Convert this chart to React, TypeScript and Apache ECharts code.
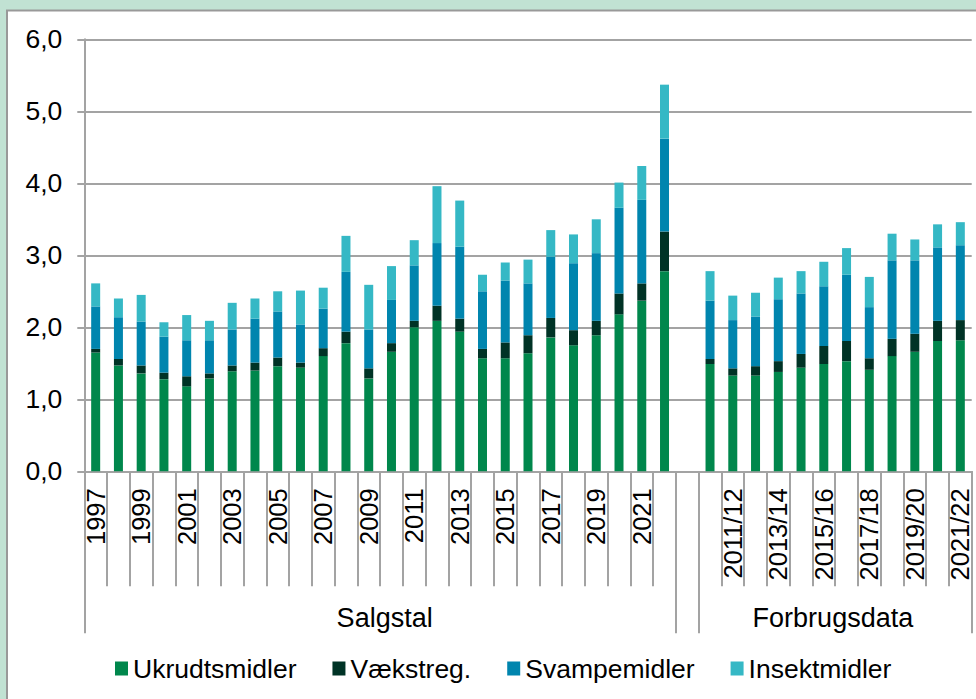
import React, { useEffect, useRef } from "react";
import * as echarts from "echarts";

const salgYears = ["1997","1998","1999","2000","2001","2002","2003","2004","2005","2006","2007","2008","2009","2010","2011","2012","2013","2014","2015","2016","2017","2018","2019","2020","2021","2022"];
const forbrugYears = ["2010/11","2011/12","2012/13","2013/14","2014/15","2015/16","2016/17","2017/18","2018/19","2019/20","2020/21","2021/22"];

const salgUkrudt = [1.65,1.47,1.36,1.28,1.18,1.29,1.39,1.40,1.46,1.44,1.60,1.78,1.29,1.66,2.00,2.09,1.94,1.57,1.57,1.64,1.86,1.75,1.89,2.18,2.37,2.78];
const salgVaekst = [0.05,0.09,0.11,0.09,0.14,0.07,0.08,0.11,0.12,0.07,0.11,0.16,0.14,0.12,0.09,0.21,0.18,0.13,0.22,0.25,0.27,0.21,0.20,0.29,0.24,0.55];
const salgSvampe = [0.59,0.58,0.61,0.50,0.50,0.46,0.50,0.61,0.64,0.53,0.55,0.83,0.54,0.60,0.77,0.87,1.00,0.80,0.86,0.72,0.85,0.93,0.94,1.19,1.16,1.29];
const salgInsekt = [0.32,0.26,0.37,0.20,0.35,0.27,0.37,0.28,0.28,0.47,0.29,0.50,0.62,0.47,0.35,0.79,0.64,0.23,0.25,0.33,0.37,0.40,0.47,0.35,0.47,0.75];

const forbrugUkrudt = [1.49,1.33,1.33,1.38,1.44,1.49,1.53,1.41,1.60,1.66,1.81,1.82];
const forbrugVaekst = [0.07,0.10,0.13,0.15,0.19,0.25,0.28,0.16,0.24,0.25,0.28,0.28];
const forbrugSvampe = [0.81,0.67,0.69,0.86,0.84,0.83,0.92,0.71,1.09,1.02,1.02,1.04];
const forbrugInsekt = [0.41,0.34,0.33,0.30,0.31,0.34,0.37,0.42,0.37,0.29,0.32,0.32];

const seriesNames = ["Ukrudtsmidler", "Vækstreg.", "Svampemidler", "Insektmidler"];
const seriesColors = ["#00874c", "#003326", "#0085ae", "#35b8c5"];
const groupLabels = ["Salgstal", "Forbrugsdata"];
const yTicks = [0, 1, 2, 3, 4, 5, 6];

const categories = [...salgYears, "", ...forbrugYears];
const join = (a: number[], b: number[]) => [...a, null, ...b];
const seriesData = [
  join(salgUkrudt, forbrugUkrudt),
  join(salgVaekst, forbrugVaekst),
  join(salgSvampe, forbrugSvampe),
  join(salgInsekt, forbrugInsekt),
];

const FONT = "'Liberation Sans', Arial, sans-serif";
const GRAY = "#a3a3a3";

export default function App() {
  const ref = useRef<HTMLDivElement>(null);
  useEffect(() => {
    if (!ref.current) return;
    const chart = echarts.init(ref.current, null, { renderer: "svg" });
    const nS = salgYears.length;
    const nAll = categories.length;
    chart.setOption({
      animation: false,
      backgroundColor: "#c1e2d3",
      graphic: [
        {
          type: "rect",
          z: -100,
          silent: true,
          shape: { x: 7, y: 10.5, width: 990, height: 700 },
          style: { fill: "#ffffff", stroke: "#999999", lineWidth: 2 },
        },
      ],
      grid: { left: 84.3, right: 4.3, top: 39.3, bottom: 227.7, containLabel: false },
      legend: {
        left: 110,
        top: 650,
        itemWidth: 13,
        itemHeight: 14,
        itemGap: 36,
        icon: "rect",
        textStyle: { fontFamily: FONT, fontSize: 26.5, color: "#000" },
        data: seriesNames,
      },
      xAxis: [
        {
          type: "category",
          data: categories,
          boundaryGap: true,
          axisLine: { show: true, lineStyle: { color: GRAY, width: 2 } },
          axisTick: { show: true, interval: 0, length: 115, lineStyle: { color: GRAY, width: 2 } },
          axisLabel: {
            interval: 1,
            rotate: 90,
            margin: 17,
            fontFamily: FONT,
            fontSize: 25.5,
            color: "#000",
          },
          splitLine: { show: false },
        },
        {
          type: "value",
          min: 0,
          max: nAll,
          position: "bottom",
          axisLine: { show: false },
          axisTick: {
            show: true,
            length: 162,
            customValues: [0, nS, nS + 1, nAll],
            lineStyle: { color: GRAY, width: 2 },
          },
          axisLabel: {
            show: true,
            customValues: [nS / 2 + 0.2, nS + 1 + forbrugYears.length / 2 - 0.1],
            formatter: (v: number) => (v < nS ? groupLabels[0] : groupLabels[1]),
            margin: 133,
            fontFamily: FONT,
            fontSize: 27,
            color: "#000",
          },
          splitLine: { show: false },
        },
      ],
      yAxis: {
        type: "value",
        min: yTicks[0],
        max: yTicks[yTicks.length - 1],
        interval: 1,
        axisLine: { show: true, lineStyle: { color: GRAY, width: 2 } },
        axisTick: { show: true, length: 7, lineStyle: { color: GRAY, width: 2 } },
        axisLabel: {
          margin: 22,
          fontFamily: FONT,
          fontSize: 26.5,
          color: "#000",
          formatter: (v: number) => v.toFixed(1).replace(".", ","),
        },
        splitLine: { show: true, lineStyle: { color: GRAY, width: 2 } },
      },
      series: seriesNames.map((name, i) => ({
        name,
        type: "bar",
        stack: "total",
        barWidth: 9,
        xAxisIndex: 0,
        itemStyle: { color: seriesColors[i] },
        data: seriesData[i],
      })),
    });
    return () => chart.dispose();
  }, []);
  return (
    <div
      ref={ref}
      style={{ position: "fixed", left: 0, top: 0, width: 976, height: 699 }}
    />
  );
}
